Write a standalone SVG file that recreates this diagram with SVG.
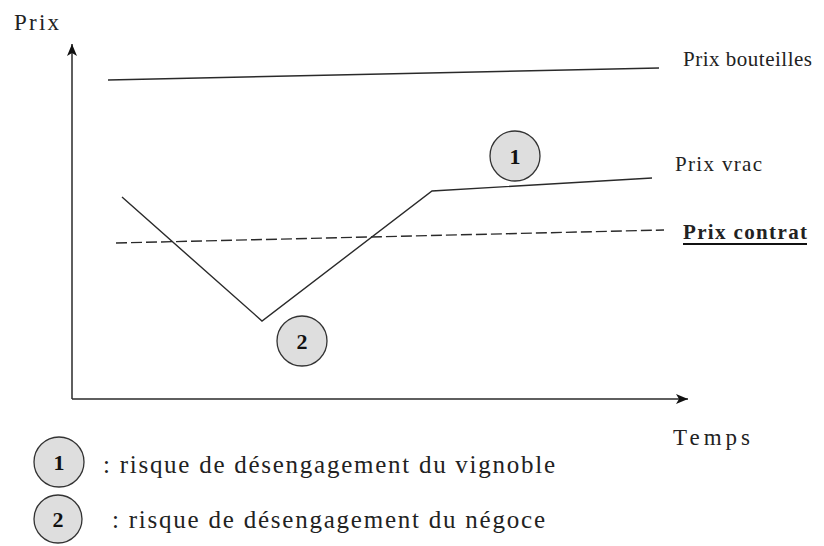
<svg xmlns="http://www.w3.org/2000/svg" width="824" height="546" viewBox="0 0 824 546">
<defs>
<style>
.ln{stroke:#2a2a2a;stroke-width:1.4;fill:none}
.ax{stroke:#2a2a2a;stroke-width:1.5;fill:none}
.bub{fill:#dedede;stroke:#333;stroke-width:1.3}
.num{font-weight:bold;font-size:22px;text-anchor:middle;fill:#111}
.lbl{font-size:21px}
</style>
<marker id="arr" viewBox="0 0 12 10" refX="12" refY="5" markerWidth="12" markerHeight="10" markerUnits="userSpaceOnUse" orient="auto">
<path d="M0,0 L12,5 L0,10 L3,5 z" fill="#111"/>
</marker>
</defs>
<rect width="824" height="546" fill="#fff"/>
<g id="connectors">
<line class="ax" x1="72" y1="399" x2="72" y2="44" marker-end="url(#arr)"/>
<line class="ax" x1="72" y1="399" x2="688" y2="399" marker-end="url(#arr)"/>
<line id="prix-bouteilles-line" class="ln" x1="108" y1="80" x2="659" y2="68"/>
<polyline id="prix-vrac-line" class="ln" points="122,197 262,321 432,191 652,178"/>
<line id="prix-contrat-line" class="ln" x1="116" y1="243" x2="664" y2="230" stroke-dasharray="11 4"/>
</g>
<g font-family="Liberation Serif, Times New Roman, serif" fill="#222">
<g id="axis-labels">
<text x="14" y="30" font-size="23" textLength="45" lengthAdjust="spacing">Prix</text>
<text x="673" y="445" font-size="23" textLength="77" lengthAdjust="spacing">Temps</text>
</g>
<g id="label-bouteilles"><text class="lbl" x="683" y="66" textLength="129" lengthAdjust="spacing">Prix bouteilles</text></g>
<g id="label-vrac"><text class="lbl" x="675" y="171" textLength="87" lengthAdjust="spacing">Prix vrac</text></g>
<g id="label-contrat">
<text class="lbl" x="683" y="239" font-weight="bold" textLength="124" lengthAdjust="spacing">Prix contrat</text>
<line x1="683" y1="244" x2="807" y2="244" stroke="#111" stroke-width="2"/>
</g>
<g id="bubble-1"><circle class="bub" cx="515" cy="156" r="25"/><text class="num" x="515" y="164">1</text></g>
<g id="bubble-2"><circle class="bub" cx="302" cy="341" r="25"/><text class="num" x="302" y="349">2</text></g>
<g id="legend-1">
<circle class="bub" cx="59" cy="462" r="25"/><text class="num" x="59" y="470">1</text>
<text x="103" y="473" font-size="25" textLength="452" lengthAdjust="spacing">: risque de désengagement du vignoble</text>
</g>
<g id="legend-2">
<circle class="bub" cx="58" cy="519" r="24"/><text class="num" x="58" y="527">2</text>
<text x="112" y="528" font-size="25" textLength="433" lengthAdjust="spacing">: risque de désengagement du négoce</text>
</g>
</g>
</svg>
